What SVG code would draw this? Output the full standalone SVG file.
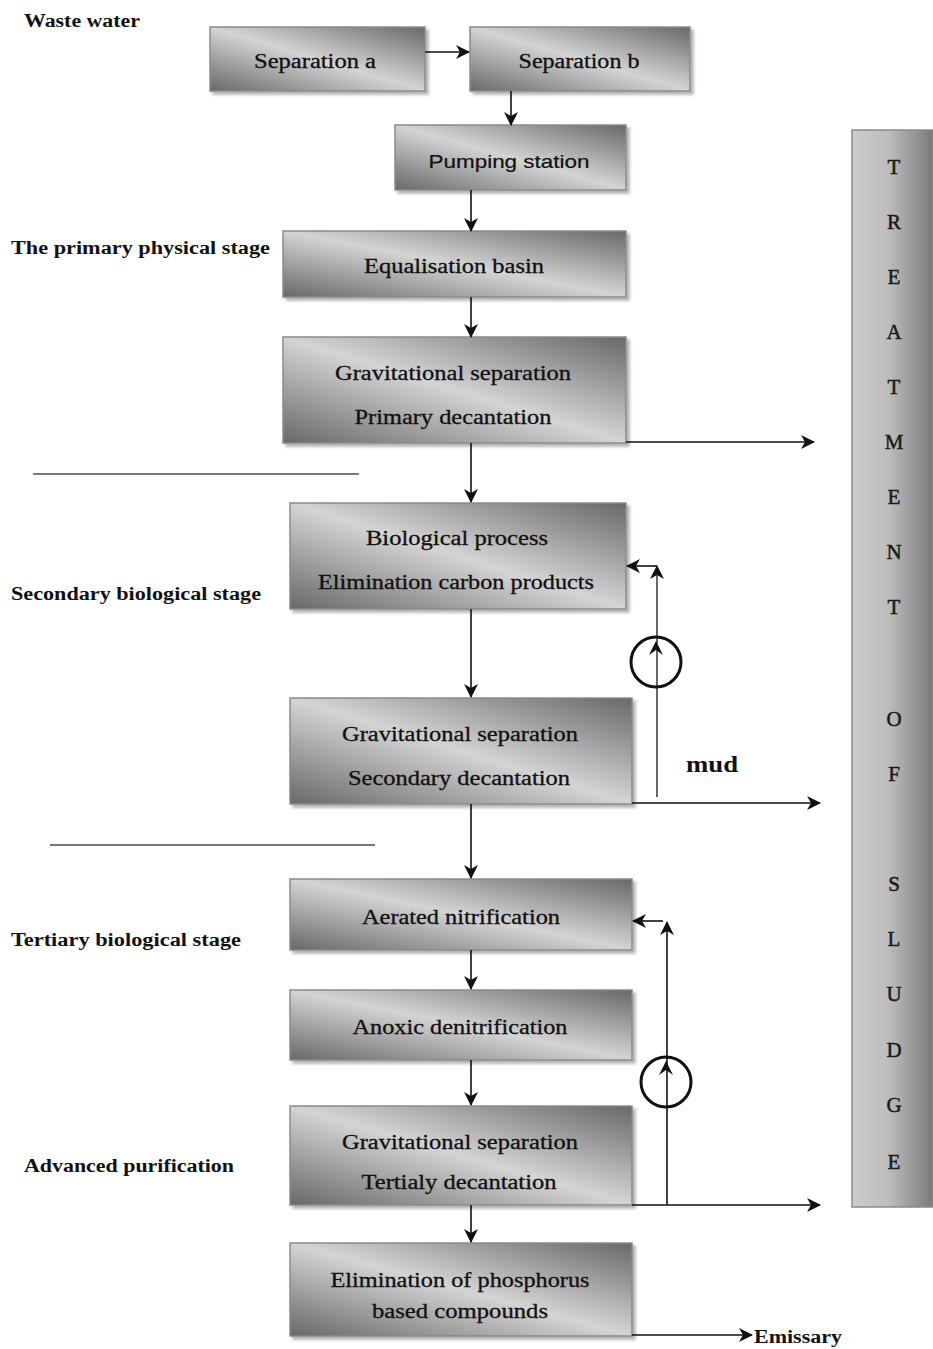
<svg xmlns="http://www.w3.org/2000/svg" width="933" height="1349" viewBox="0 0 933 1349">
<style>
.box{fill:url(#g);stroke:#8a8a8a;stroke-width:1.5;filter:url(#sh)}
.t{font-family:"Liberation Serif",serif;font-size:20px;fill:#111;stroke:#111;stroke-width:0.3;text-anchor:middle}
.ts{font-family:"Liberation Sans",sans-serif;font-size:19px;fill:#111;stroke:#111;stroke-width:0.2;text-anchor:middle}
.lb{font-family:"Liberation Serif",serif;font-size:18px;font-weight:bold;fill:#111}
.bar{font-family:"Liberation Serif",serif;font-size:21px;fill:#1a1a1a;stroke:#1a1a1a;stroke-width:0.5;text-anchor:middle}
.c{stroke:#111;stroke-width:1.6;fill:none}
.cg{stroke:#666;stroke-width:2;fill:none}
.sep{stroke:#777;stroke-width:2}
</style>
<defs>
<linearGradient id="g" x1="1" y1="0" x2="0" y2="1">
<stop offset="0" stop-color="#686868"/>
<stop offset="0.5" stop-color="#d4d4d4"/>
<stop offset="1" stop-color="#686868"/>
</linearGradient>
<linearGradient id="gb" x1="0" y1="0" x2="1" y2="0">
<stop offset="0" stop-color="#cdcdcd"/>
<stop offset="0.45" stop-color="#bdbdbd"/>
<stop offset="1" stop-color="#7a7a7a"/>
</linearGradient>
<filter id="sh" x="-5%" y="-10%" width="115%" height="130%">
<feDropShadow dx="3" dy="3" stdDeviation="1.5" flood-color="#000" flood-opacity="0.3"/>
</filter>
<marker id="a" viewBox="0 0 14 14" refX="13" refY="7" markerWidth="14" markerHeight="14" markerUnits="userSpaceOnUse" orient="auto">
<path d="M0,0 L14,7 L0,14 L4,7 z" fill="#111"/>
</marker>
</defs>

<g id="labels">
<text class="lb" x="24" y="27" textLength="116" lengthAdjust="spacingAndGlyphs">Waste water</text>
<text class="lb" x="11" y="254" textLength="259" lengthAdjust="spacingAndGlyphs">The primary physical stage</text>
<text class="lb" x="11" y="600" textLength="250" lengthAdjust="spacingAndGlyphs">Secondary biological stage</text>
<text class="lb" x="11" y="946" textLength="230" lengthAdjust="spacingAndGlyphs">Tertiary biological stage</text>
<text class="lb" x="24" y="1172" textLength="210" lengthAdjust="spacingAndGlyphs">Advanced purification</text>
<text class="lb" x="686" y="772" style="font-size:23px" textLength="52" lengthAdjust="spacingAndGlyphs">mud</text>
<text class="lb" x="754" y="1343" textLength="88" lengthAdjust="spacingAndGlyphs">Emissary</text>
</g>

<g id="separators">
<line class="sep" x1="33" y1="474" x2="359" y2="474"/>
<line class="sep" x1="50" y1="845" x2="375" y2="845"/>
</g>

<g id="sepA"><rect class="box" x="210" y="27" width="215" height="64"/><text class="t" x="315" y="68" textLength="122" lengthAdjust="spacingAndGlyphs">Separation a</text></g>
<g id="sepB"><rect class="box" x="470" y="27" width="220" height="64"/><text class="t" x="579" y="68" textLength="121" lengthAdjust="spacingAndGlyphs">Separation b</text></g>
<g id="pump"><rect class="box" x="395" y="125" width="231" height="65"/><text class="ts" x="509" y="168" textLength="161" lengthAdjust="spacingAndGlyphs">Pumping station</text></g>
<g id="equal"><rect class="box" x="283" y="231" width="343" height="66"/><text class="t" x="454" y="273" textLength="180" lengthAdjust="spacingAndGlyphs">Equalisation basin</text></g>
<g id="grav1"><rect class="box" x="283" y="337" width="343" height="106"/><text class="t" x="453" y="380" textLength="236" lengthAdjust="spacingAndGlyphs">Gravitational separation</text><text class="t" x="453" y="424" textLength="197" lengthAdjust="spacingAndGlyphs">Primary decantation</text></g>
<g id="bio"><rect class="box" x="290" y="503" width="336" height="106"/><text class="t" x="457" y="545" textLength="182" lengthAdjust="spacingAndGlyphs">Biological process</text><text class="t" x="456" y="589" textLength="276" lengthAdjust="spacingAndGlyphs">Elimination carbon products</text></g>
<g id="grav2"><rect class="box" x="290" y="698" width="342" height="106"/><text class="t" x="460" y="741" textLength="236" lengthAdjust="spacingAndGlyphs">Gravitational separation</text><text class="t" x="459" y="785" textLength="222" lengthAdjust="spacingAndGlyphs">Secondary decantation</text></g>
<g id="aer"><rect class="box" x="290" y="879" width="342" height="71"/><text class="t" x="461" y="924" textLength="198" lengthAdjust="spacingAndGlyphs">Aerated nitrification</text></g>
<g id="anox"><rect class="box" x="290" y="990" width="342" height="70"/><text class="t" x="460" y="1034" textLength="215" lengthAdjust="spacingAndGlyphs">Anoxic denitrification</text></g>
<g id="grav3"><rect class="box" x="290" y="1106" width="342" height="99"/><text class="t" x="460" y="1149" textLength="236" lengthAdjust="spacingAndGlyphs">Gravitational separation</text><text class="t" x="459" y="1189" textLength="195" lengthAdjust="spacingAndGlyphs">Tertialy decantation</text></g>
<g id="phos"><rect class="box" x="290" y="1243" width="342" height="93"/><text class="t" x="460" y="1287" textLength="259" lengthAdjust="spacingAndGlyphs">Elimination of phosphorus</text><text class="t" x="460" y="1318" textLength="176" lengthAdjust="spacingAndGlyphs">based compounds</text></g>

<g id="sludge">
<rect x="852" y="130" width="81" height="1077" fill="url(#gb)" stroke="#8a8a8a" stroke-width="1.5"/>
<text class="bar" x="894" y="174">T</text>
<text class="bar" x="894" y="229">R</text>
<text class="bar" x="894" y="284">E</text>
<text class="bar" x="894" y="339">A</text>
<text class="bar" x="894" y="394">T</text>
<text class="bar" x="894" y="449">M</text>
<text class="bar" x="894" y="504">E</text>
<text class="bar" x="894" y="559">N</text>
<text class="bar" x="894" y="614">T</text>
<text class="bar" x="894" y="726">O</text>
<text class="bar" x="894" y="781">F</text>
<text class="bar" x="894" y="891">S</text>
<text class="bar" x="894" y="946">L</text>
<text class="bar" x="894" y="1001">U</text>
<text class="bar" x="894" y="1057">D</text>
<text class="bar" x="894" y="1112">G</text>
<text class="bar" x="894" y="1169">E</text>
</g>

<g id="connectors">
<line class="c" x1="425" y1="52" x2="469" y2="52" marker-end="url(#a)"/>
<line class="c" x1="511" y1="91" x2="511" y2="125" marker-end="url(#a)"/>
<line class="c" x1="471" y1="190" x2="471" y2="231" marker-end="url(#a)"/>
<line class="c" x1="471" y1="297" x2="471" y2="337" marker-end="url(#a)"/>
<line class="c" x1="471" y1="443" x2="471" y2="502" marker-end="url(#a)"/>
<line class="c" x1="626" y1="442" x2="814" y2="442" marker-end="url(#a)"/>
<line class="c" x1="471" y1="609" x2="471" y2="697" marker-end="url(#a)"/>
<line class="c" x1="471" y1="804" x2="471" y2="878" marker-end="url(#a)"/>
<line class="c" x1="632" y1="803" x2="820" y2="803" marker-end="url(#a)"/>
<line class="cg" x1="657" y1="797" x2="657" y2="566" marker-end="url(#a)"/>
<line class="c" x1="657" y1="566" x2="627" y2="566" marker-end="url(#a)"/>
<circle cx="656" cy="662" r="25" fill="none" stroke="#111" stroke-width="3"/>
<path d="M656,641 l-7,14 l7,-5 l7,5 z" fill="#111"/>
<line class="c" x1="471" y1="950" x2="471" y2="989" marker-end="url(#a)"/>
<line class="c" x1="471" y1="1060" x2="471" y2="1105" marker-end="url(#a)"/>
<line class="c" x1="471" y1="1205" x2="471" y2="1242" marker-end="url(#a)"/>
<line class="c" x1="632" y1="1205" x2="820" y2="1205" marker-end="url(#a)"/>
<line class="c" x1="667" y1="1205" x2="667" y2="922" marker-end="url(#a)"/>
<line class="c" x1="663" y1="921" x2="633" y2="921" marker-end="url(#a)"/>
<circle cx="666" cy="1082" r="25" fill="none" stroke="#111" stroke-width="3"/>
<path d="M666,1061 l-7,14 l7,-5 l7,5 z" fill="#111"/>
<line class="c" x1="632" y1="1335" x2="752" y2="1335" marker-end="url(#a)"/>
</g>
</svg>
